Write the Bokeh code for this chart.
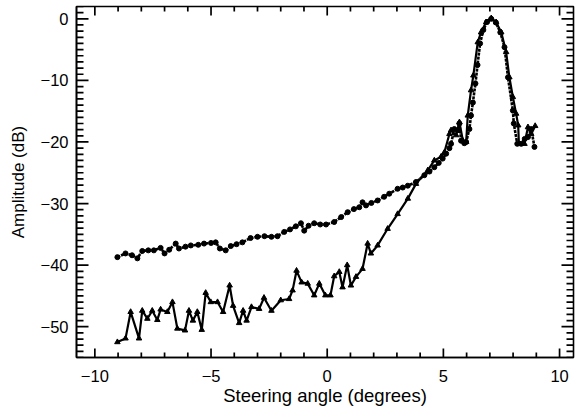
from bokeh.plotting import figure
from bokeh.models import Range1d, SingleIntervalTicker, ColumnDataSource
from bokeh.embed import file_html
from bokeh.resources import INLINE

# Lower curve (solid line, triangle markers)
solid_x = [-9.03, -8.68, -8.46, -8.10, -7.96, -7.74, -7.53, -7.31, -7.17, -6.88,
           -6.66, -6.45, -6.12, -5.95, -5.78, -5.59, -5.40, -5.23, -5.01, -4.72,
           -4.48, -4.20, -4.05, -3.79, -3.62, -3.47, -3.26, -2.93, -2.72, -2.40,
           -2.00, -1.64, -1.49, -1.32, -1.10, -0.84, -0.56, -0.34, -0.08, 0.14,
           0.30, 0.52, 0.66, 0.86, 1.02, 1.24, 1.52, 1.74, 1.88, 2.17,
           2.60, 3.03, 3.47, 3.82, 4.33, 4.61, 4.90, 5.04, 5.26, 5.33,
           5.55, 5.69, 5.84, 5.98, 6.05, 6.19, 6.29, 6.48, 6.62, 6.84,
           7.06, 7.27, 7.49, 7.70, 7.84, 7.99, 8.13, 8.22, 8.25, 8.49,
           8.64, 8.78, 8.95]
solid_y = [-52.5, -51.9, -47.6, -51.9, -47.4, -48.7, -47.4, -48.9, -47.2, -47.6,
           -46.0, -50.3, -50.6, -47.4, -49.0, -47.6, -50.5, -44.5, -46.0, -46.0,
           -47.6, -43.3, -46.6, -49.4, -47.4, -49.0, -46.8, -47.1, -45.3, -47.4,
           -45.7, -45.5, -44.1, -40.9, -42.8, -43.0, -44.9, -43.0, -44.9, -44.9,
           -41.8, -41.1, -43.6, -40.0, -43.3, -41.9, -40.6, -36.5, -38.1, -36.8,
           -34.1, -31.7, -29.2, -26.8, -24.6, -23.0, -22.4, -21.7, -18.7, -18.1,
           -18.9, -16.8, -19.8, -20.0, -15.7, -11.6, -9.2, -3.8, -2.2, -0.55,
           0.1, -0.55, -2.2, -5.4, -9.5, -12.7, -15.4, -17.3, -20.3, -20.3,
           -17.6, -18.7, -17.4]

# Upper curve (dotted line, circle markers)
dot_x = [-9.03, -8.68, -8.40, -8.17, -7.96, -7.70, -7.46, -7.17, -7.00, -6.80,
         -6.52, -6.38, -6.10, -5.87, -5.55, -5.30, -5.00, -4.80, -4.62, -4.37,
         -4.15, -3.90, -3.65, -3.30, -3.00, -2.70, -2.40, -2.14, -1.85, -1.60,
         -1.35, -1.13, -0.99, -0.80, -0.56, -0.30, -0.05, 0.30, 0.60, 0.88,
         1.15, 1.38, 1.52, 1.67, 1.90, 2.17, 2.45, 2.67, 3.03, 3.25,
         3.47, 3.82, 4.18, 4.40, 4.61, 4.80, 4.97, 5.12, 5.26, 5.33,
         5.47, 5.62, 5.69, 5.76, 5.90, 5.98, 6.12, 6.19, 6.27, 6.38,
         6.47, 6.58, 6.72, 6.88, 7.06, 7.26, 7.45, 7.63, 7.78, 7.99,
         8.03, 8.18, 8.35, 8.50, 8.64, 8.78, 8.92]
dot_y = [-38.7, -38.1, -38.4, -38.9, -37.7, -37.6, -37.6, -37.2, -38.1, -37.5,
         -36.5, -37.3, -37.0, -36.8, -36.7, -36.5, -36.4, -36.3, -37.3, -37.6,
         -36.9, -36.6, -36.3, -35.6, -35.4, -35.3, -35.4, -35.3, -34.6, -34.2,
         -33.7, -33.2, -34.4, -33.6, -33.2, -33.4, -33.4, -33.0, -32.2, -31.4,
         -30.9, -30.6, -29.8, -30.3, -29.9, -29.5, -28.9, -28.4, -27.6, -27.4,
         -27.1, -26.5, -25.4, -24.8, -24.1, -23.4, -22.7, -21.9, -21.0, -20.3,
         -17.9, -18.1, -17.0, -19.8, -20.2, -20.0, -17.9, -15.7, -13.6, -10.5,
         -7.5, -4.0, -1.8, -0.5, 0.0, -0.6, -2.2, -4.6, -9.5, -14.9,
         -17.0, -20.3, -20.3, -19.5, -19.2, -17.9, -20.8]

# Axis tick positions
x_major = [-10, -5, 0, 5, 10]
x_minor = [v for v in range(-10, 11) if v % 5 != 0]
y_major = [-50, -40, -30, -20, -10, 0]
y_minor = [v for v in range(-55, 3) if v % 10 != 0]

X0, X1 = -10.79, 10.6
Y0, Y1 = -55.0, 2.0
W, H = 582, 410
BL, BR, BT, BB = 76, 9, 6, 53
FONT = "Liberation Sans"

p = figure(width=W, height=H, output_backend="svg", toolbar_location=None,
           x_range=Range1d(X0, X1), y_range=Range1d(Y0, Y1),
           min_border_left=BL, min_border_right=BR, min_border_top=BT, min_border_bottom=BB,
           x_axis_label="Steering angle (degrees)", y_axis_label="Amplitude (dB)")
p.grid.visible = False
p.outline_line_color = "black"
p.outline_line_width = 1.6
p.background_fill_color = "white"
p.border_fill_color = "white"

for ax, interval in ((p.xaxis[0], 5), (p.yaxis[0], 10)):
    ax.ticker = SingleIntervalTicker(interval=interval)
    ax.major_tick_in = 0
    ax.major_tick_out = 0
    ax.minor_tick_in = 0
    ax.minor_tick_out = 0
    ax.axis_line_width = 1.6
    ax.axis_line_color = "black"
    ax.major_label_text_font = FONT
    ax.major_label_text_color = "black"
    ax.major_label_text_font_size = "16.5px"
    ax.axis_label_text_font = FONT
    ax.axis_label_text_font_style = "normal"
    ax.axis_label_text_color = "black"

p.xaxis[0].axis_label_text_font_size = "18.5px"
p.yaxis[0].axis_label_text_font_size = "17px"
p.xaxis[0].major_label_standoff = 12
p.xaxis[0].axis_label_standoff = 0
p.yaxis[0].major_label_standoff = 8
p.yaxis[0].axis_label_standoff = 10

# Inward tick marks on all four sides (lengths in pixels, converted to data units)
fx = (X1 - X0) / (W - BL - BR)
fy = (Y1 - Y0) / (H - BT - BB)

def tick_lines(major_len, minor_len):
    xs, ys = [], []
    ex, ey = 2 * fx, 2 * fy
    for vals, maj in ((x_major, True), (x_minor, False)):
        L = (major_len[0] if maj else minor_len[0]) * fy
        for v in vals:
            xs.append([float(v), float(v)]); ys.append([Y0 - ey, Y0 + L])
            xs.append([float(v), float(v)]); ys.append([Y1 + ey, Y1 - L])
    for vals, maj in ((y_major, True), (y_minor, False)):
        L = (major_len[1] if maj else minor_len[1]) * fx
        for v in vals:
            xs.append([X0 - ex, X0 + L]); ys.append([float(v), float(v)])
            xs.append([X1 + ex, X1 - L]); ys.append([float(v), float(v)])
    return xs, ys

txs, tys = tick_lines((9, 12), (5, 7))
tick_src = ColumnDataSource(dict(xs=txs, ys=tys))
p.multi_line(xs="xs", ys="ys", source=tick_src, line_color="black", line_width=1.7)

src_s = ColumnDataSource(dict(x=solid_x, y=solid_y))
src_d = ColumnDataSource(dict(x=dot_x, y=dot_y))

p.line("x", "y", source=src_d, line_color="black", line_width=2.6, line_dash="3 1")
p.scatter("x", "y", source=src_d, marker="circle", size=5, fill_color="black", line_color="black")
p.line("x", "y", source=src_s, line_color="black", line_width=2.2)
p.scatter("x", "y", source=src_s, marker="triangle", size=5.5, fill_color="black", line_color="black")

open("out.html", "w").write(file_html(p, INLINE))
